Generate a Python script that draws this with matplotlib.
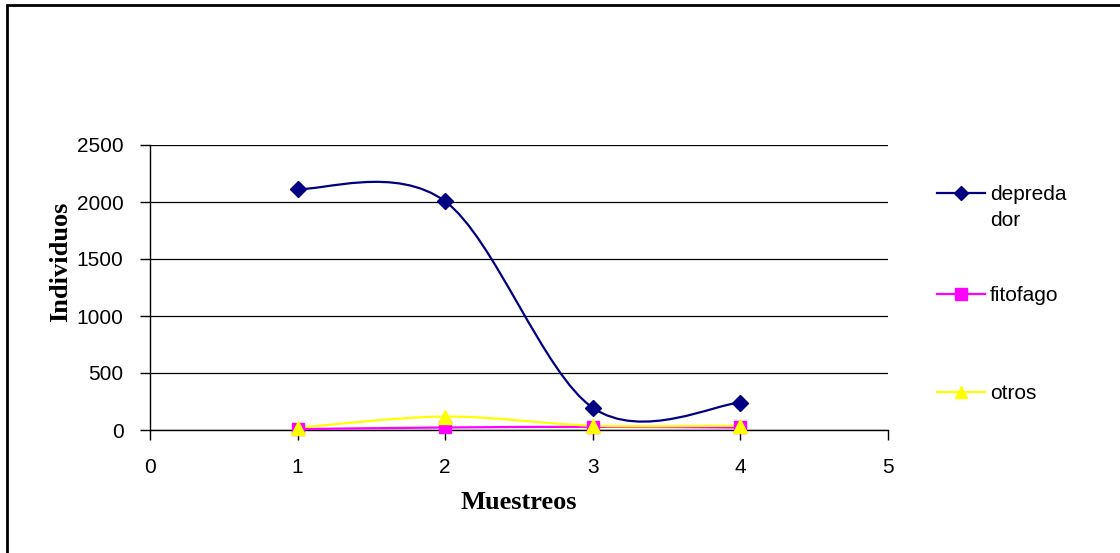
import numpy as np
import matplotlib.pyplot as plt
from matplotlib.path import Path
from matplotlib.patches import PathPatch, Rectangle
from matplotlib.lines import Line2D

plt.rcParams['font.family'] = 'Liberation Sans'

muestreos = [1, 2, 3, 4]
depredador = [2115, 2005, 195, 240]
fitofago = [8, 22, 28, 22]
otros = [20, 118, 38, 38]
nombres = ['depreda\ndor', 'fitofago', 'otros']


def smooth_path(x, y):
    # bezier spline through the points (office-style smoothed line)
    pts = np.column_stack([x, y]).astype(float)
    n = len(pts)
    verts = [pts[0]]
    codes = [Path.MOVETO]
    for i in range(n - 1):
        p0 = pts[max(i - 1, 0)]
        p1 = pts[i]
        p2 = pts[i + 1]
        p3 = pts[min(i + 2, n - 1)]
        verts += [p1 + (p2 - p0) / 6, p2 - (p3 - p1) / 6, p2]
        codes += [Path.CURVE4] * 3
    return Path(verts, codes)


fig = plt.figure(figsize=(11.2, 5.53), dpi=100)
W, H = 1120, 553
ax = fig.add_axes([150 / W, 1 - 430 / H, 738 / W, 285 / H])

series = [
    (depredador, '#000080', 'D', 8.5),
    (fitofago, '#FF00FF', 's', 9),
    (otros, '#FFFF00', '^', 10),
]
for vals, col, mk, ms in series:
    ax.add_patch(PathPatch(smooth_path(muestreos, vals), facecolor='none',
                           edgecolor=col, lw=1.6, zorder=3))
    ax.plot(muestreos, vals, ls='none', marker=mk, ms=ms, color=col,
            mec=col, zorder=4, clip_on=False)

ax.set_xlim(0, 5)
ax.set_ylim(0, 2500)
ax.set_xticks(range(6))
ax.set_yticks(range(0, 2501, 500))
ax.grid(axis='y', color='black', lw=0.9)
ax.set_axisbelow(True)
for s in ['top', 'right']:
    ax.spines[s].set_visible(False)
ax.spines['left'].set_linewidth(1.0)
ax.spines['bottom'].set_linewidth(1.0)
ax.tick_params(direction='out', length=7, width=1.0, labelsize=15, pad=12)
ax.tick_params(axis='x', pad=13)

ax.set_xlabel('Muestreos', family='Liberation Serif', fontweight='bold',
              fontsize=19)
ax.set_ylabel('Individuos', family='Liberation Serif', fontweight='bold',
              fontsize=19)
ax.xaxis.set_label_coords(0.5, -0.215)
ax.yaxis.set_label_coords(-0.105, 0.59)

# legend: line + marker with the series name beside it
leg_y = [193, 294, 392]
for (vals, col, mk, ms), nombre, yp in zip(series, nombres, leg_y):
    yf = 1 - yp / H
    fig.add_artist(Line2D([937 / W, 985 / W], [yf, yf], color=col, lw=1.6,
                          transform=fig.transFigure))
    fig.add_artist(Line2D([961 / W], [yf], color=col, marker=mk, ms=ms - 1,
                          transform=fig.transFigure))
    fig.text(990 / W, 1 - (yp - 8) / H, nombre, fontsize=15, va='top',
             ha='left', linespacing=1.5)

# outer chart border
fig.add_artist(Rectangle((7 / W, -0.1), 1.2, 1 - 5 / H + 0.1,
                         transform=fig.transFigure, fill=False,
                         edgecolor='black', lw=2.0))

fig.savefig('out.png', dpi=100)
